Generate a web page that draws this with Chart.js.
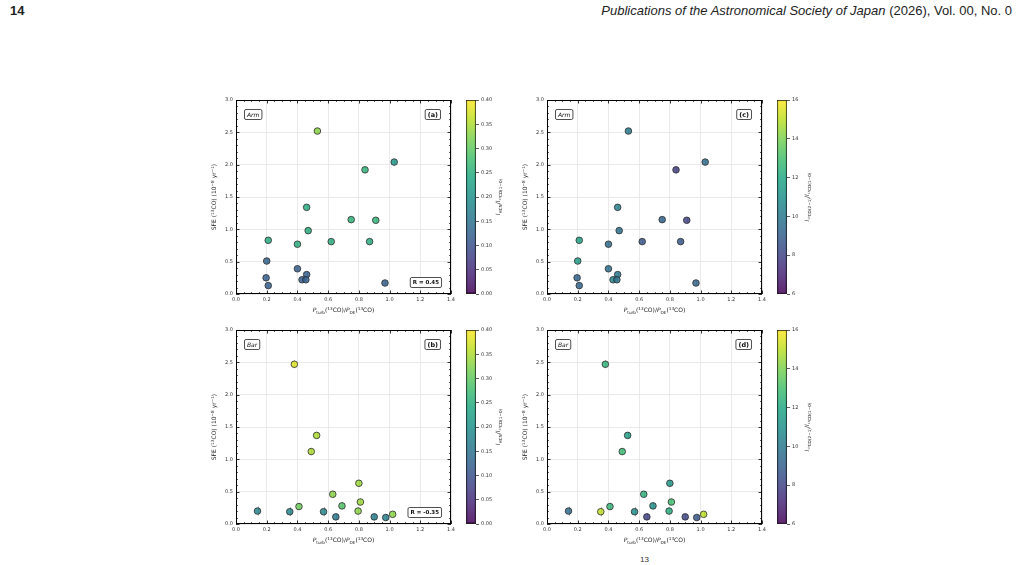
<!DOCTYPE html>
<html><head><meta charset="utf-8">
<script src="https://cdn.jsdelivr.net/npm/chart.js@4/dist/chart.umd.min.js"></script>
<style>
body{margin:0;background:#fff;width:1021px;height:565px;overflow:hidden;position:relative;}
canvas{position:absolute;}
.hdr{position:absolute;top:3px;font-family:"Liberation Sans Narrow","Liberation Sans",Arial,sans-serif;font-size:13px;color:#222;white-space:nowrap;}
#hl{left:10px;font-weight:bold;}
#hr{right:9px;}
#foot{position:absolute;left:640px;top:555px;font-family:"Liberation Sans",sans-serif;font-size:8px;color:#333;}
</style></head><body>
<div class="hdr" id="hl">14</div>
<div class="hdr" id="hr"><i>Publications of the Astronomical Society of Japan</i> (2026), Vol. 00, No. 0</div>
<div id="foot">13</div>
<canvas id="pa" width="268" height="236" style="left:190px;top:92px"></canvas>
<canvas id="ca" width="50" height="236" style="left:466px;top:92px"></canvas>
<canvas id="pc" width="268" height="236" style="left:501px;top:92px"></canvas>
<canvas id="cc" width="50" height="236" style="left:777px;top:92px"></canvas>
<canvas id="pb" width="268" height="236" style="left:190px;top:322px"></canvas>
<canvas id="cb" width="50" height="236" style="left:466px;top:322px"></canvas>
<canvas id="pd" width="268" height="236" style="left:501px;top:322px"></canvas>
<canvas id="cd" width="50" height="236" style="left:777px;top:322px"></canvas>
<script>
// ---- data ----
const xTickLabels = ['0.0','0.2','0.4','0.6','0.8','1.0','1.2','1.4'];
const yTickLabels = ['0.0','0.5','1.0','1.5','2.0','2.5','3.0'];
const hcnTickLabels = ['0.00','0.05','0.10','0.15','0.20','0.25','0.30','0.35','0.40'];
const coTickLabels = ['6','8','10','12','14','16'];

const armX   = [0.53,1.03,0.84,0.46,0.75,0.91,0.47,0.21,0.40,0.62,0.87,0.20,0.40,0.196,0.21,0.46,0.43,0.455,0.97];
const armY   = [2.52,2.04,1.92,1.34,1.15,1.14,0.98,0.83,0.77,0.81,0.81,0.51,0.39,0.25,0.13,0.30,0.22,0.22,0.17];
const armErr = [0.04,0.04,0.04,0.03,0.03,0.03,0.03,0.03,0.03,0.03,0.03,0.03,0.03,0.03,0.03,0.03,0.03,0.03,0.03];
const armHCN = [0.33,0.21,0.26,0.25,0.26,0.26,0.25,0.25,0.25,0.25,0.25,0.13,0.12,0.12,0.12,0.12,0.12,0.12,0.12];
const armCO  = [10.2,9.5,7.8,10.3,9.2,8.0,9.8,11.8,9.5,8.7,8.8,11.5,9.7,9.2,9.2,10.0,10.5,9.8,9.3];

const barX   = [0.38,0.525,0.49,0.80,0.63,0.81,0.41,0.69,0.795,1.02,0.14,0.35,0.57,0.65,0.90,0.975];
const barY   = [2.47,1.37,1.12,0.63,0.46,0.34,0.27,0.28,0.20,0.15,0.20,0.19,0.19,0.11,0.11,0.10];
const barErr = [0.06,0.05,0.05,0.05,0.05,0.05,0.05,0.05,0.05,0.04,0.07,0.07,0.07,0.05,0.05,0.05];
const barHCN = [0.38,0.35,0.35,0.34,0.33,0.34,0.31,0.29,0.33,0.33,0.18,0.18,0.18,0.16,0.17,0.17];
const barCO  = [12.5,11.6,12.8,11.2,12.4,13.0,12.6,11.0,12.2,15.0,9.5,15.0,10.8,8.0,8.2,8.8];

// ---- colormap ----
const VIR = ['#440154','#482475','#414487','#355f8d','#2a788e','#21918c','#22a884','#44bf70','#7ad151','#bddf26','#fde725'];
const ALPHA = 0.85;
function hex2rgb(h){return [parseInt(h.substr(1,2),16),parseInt(h.substr(3,2),16),parseInt(h.substr(5,2),16)];}
function viridis(t,al){
  t=Math.max(0,Math.min(1,t));
  const s=t*10, i=Math.min(9,Math.floor(s)), f=s-i;
  const a=hex2rgb(VIR[i]), b=hex2rgb(VIR[i+1]);
  return 'rgba('+a.map((v,k)=>Math.round(v+(b[k]-v)*f)).join(',')+','+al+')';
}

const FAM = '"DejaVu Sans", sans-serif';
function drawRich(ctx, segs, cx, cy, rot, size, color){
  ctx.save(); ctx.translate(cx,cy); ctx.rotate(rot);
  const fontOf=s=>(s.i?'italic ':'')+(s.b?'bold ':'')+((s.sub||s.sup)?size*0.7:size)+'px '+FAM;
  let w=0; for(const s of segs){ctx.font=fontOf(s); s._w=ctx.measureText(s.t).width; w+=s._w;}
  let x=-w/2; ctx.fillStyle=color; ctx.textBaseline='alphabetic'; ctx.textAlign='left';
  for(const s of segs){ctx.font=fontOf(s); const dy=s.sub?size*0.25:(s.sup?-size*0.4:0); ctx.fillText(s.t,x,size*0.35+dy); x+=s._w;}
  ctx.restore();
}
function roundRect(ctx,x,y,w,h,r){
  ctx.beginPath(); ctx.moveTo(x+r,y); ctx.lineTo(x+w-r,y); ctx.quadraticCurveTo(x+w,y,x+w,y+r);
  ctx.lineTo(x+w,y+h-r); ctx.quadraticCurveTo(x+w,y+h,x+w-r,y+h); ctx.lineTo(x+r,y+h);
  ctx.quadraticCurveTo(x,y+h,x,y+h-r); ctx.lineTo(x,y+r); ctx.quadraticCurveTo(x,y,x+r,y); ctx.closePath();
}
function textBox(ctx,text,font,x,y,anchor){
  ctx.save(); ctx.font=font; const w=ctx.measureText(text).width+5, h=10;
  let bx = anchor.indexOf('r')>=0 ? x-w : x;
  let by = anchor.indexOf('b')>=0 ? y-h : y;
  roundRect(ctx,bx+0.5,by+0.5,w,h,1.5); ctx.fillStyle='#fff'; ctx.fill();
  ctx.strokeStyle='#222'; ctx.lineWidth=0.8; ctx.stroke();
  ctx.fillStyle='#111'; ctx.textAlign='center'; ctx.textBaseline='middle';
  ctx.fillText(text,bx+0.5+w/2,by+0.5+h/2+0.5); ctx.restore();
}

const xTitle=[{t:'P',i:true},{t:'turb',sub:true},{t:'('},{t:'13',sup:true},{t:'CO)/'},{t:'P',i:true},{t:'DE',sub:true},{t:'('},{t:'13',sup:true},{t:'CO)'}];
const yTitle=[{t:'SFE ('},{t:'13',sup:true},{t:'CO) (10'},{t:'\u22128',sup:true},{t:' yr'},{t:'\u22121',sup:true},{t:')'}];
const hcnTitle=[{t:'I',i:true},{t:'HCN',sub:true},{t:'/'},{t:'I',i:true},{t:'\u00b9\u00b3CO(1\u22120)',sub:true}];
const coTitle=[{t:'I',i:true},{t:'\u00b9\u00b3CO(2\u22121)',sub:true},{t:'/'},{t:'I',i:true},{t:'\u00b9\u00b3CO(1\u22120)',sub:true}];

function makeScatter(id, xs, ys, errs, cs, cmin, cmax, region, tag, rtext){
  const pts = xs.map((x,i)=>({x:x,y:ys[i]}));
  const deco = {
    id:'deco',
    beforeDatasetsDraw(chart){
      const c=chart.ctx, sx=chart.scales.x, sy=chart.scales.y;
      c.save(); c.strokeStyle='#a0a0a0'; c.lineWidth=1;
      xs.forEach((x,i)=>{const px=Math.round(sx.getPixelForValue(x))+0.5;
        c.beginPath(); c.moveTo(px,sy.getPixelForValue(ys[i]-errs[i])); c.lineTo(px,sy.getPixelForValue(ys[i]+errs[i])); c.stroke();});
      c.restore();
    },
    afterDraw(chart){
      const c=chart.ctx, a=chart.chartArea, sx=chart.scales.x, sy=chart.scales.y;
      c.save();
      c.strokeStyle='#000'; c.lineWidth=1;
      c.strokeRect(a.left+0.5,a.top+0.5,a.right-a.left-1,a.bottom-a.top-1);
      c.lineWidth=0.8;
      for(let k=0;k<=28;k++){const v=k*0.05, px=Math.round(sx.getPixelForValue(v))+0.5, L=(k%4===0)?3.5:1.8;
        c.beginPath(); c.moveTo(px,a.bottom); c.lineTo(px,a.bottom-L); c.moveTo(px,a.top); c.lineTo(px,a.top+L); c.stroke();}
      for(let k=0;k<=30;k++){const v=k*0.1, py=Math.round(sy.getPixelForValue(v))+0.5, L=(k%5===0)?3.5:1.8;
        c.beginPath(); c.moveTo(a.left,py); c.lineTo(a.left+L,py); c.moveTo(a.right,py); c.lineTo(a.right-L,py); c.stroke();}
      c.restore();
      drawRich(c,xTitle,(a.left+a.right)/2,a.bottom+16,0,6,'#222');
      drawRich(c,yTitle,a.left-22,(a.top+a.bottom)/2,-Math.PI/2,6,'#222');
      textBox(c,region,'italic 6px '+FAM,a.left+8,a.top+9,'tl');
      textBox(c,tag,'bold 6.5px '+FAM,a.right-11,a.top+9,'tr');
      if(rtext) textBox(c,rtext,'bold 5.5px '+FAM,a.right-10,a.bottom-7,'br');
    }
  };
  new Chart(document.getElementById(id),{
    type:'scatter',
    data:{datasets:[{data:pts, backgroundColor:cs.map(v=>viridis((v-cmin)/(cmax-cmin),ALPHA)),
      borderColor:'#2a2a2a', borderWidth:0.8, pointRadius:3.3, pointHoverRadius:3.3}]},
    options:{responsive:false, animation:false, devicePixelRatio:1,
      layout:{padding:{top:8,right:6,left:0,bottom:0}},
      plugins:{legend:{display:false},tooltip:{enabled:false}},
      scales:{
        x:{type:'linear',min:0,max:1.4,
          ticks:{stepSize:0.2,color:'#333',font:{size:5,family:FAM},padding:3,maxRotation:0,callback:(v,i)=>xTickLabels[i]},
          grid:{color:'#e4e4e4',lineWidth:0.8,drawTicks:false},border:{display:false},
          afterFit:s=>{s.height=34;}},
        y:{type:'linear',min:0,max:3,
          ticks:{stepSize:0.5,color:'#333',font:{size:5,family:FAM},padding:3,callback:(v,i)=>yTickLabels[i]},
          grid:{color:'#e4e4e4',lineWidth:0.8,drawTicks:false},border:{display:false},
          afterFit:s=>{s.width=46;}}
      }},
    plugins:[deco]
  });
}

function makeColorbar(id, cmin, cmax, step, labels, title, off){
  const lab={id:'lab',afterDraw(chart){const a=chart.chartArea; drawRich(chart.ctx,title,a.right+off,(a.top+a.bottom)/2,-Math.PI/2,6,'#222');}};
  new Chart(document.getElementById(id),{
    type:'bar',
    data:{labels:[''],datasets:[{data:[[cmin,cmax]],
      backgroundColor:(ctx)=>{const ca=ctx.chart.chartArea; if(!ca) return '#888';
        const g=ctx.chart.ctx.createLinearGradient(0,ca.bottom,0,ca.top);
        VIR.forEach((c,i)=>g.addColorStop(i/10,viridis(i/10,ALPHA))); return g;},
      borderColor:'#222',borderWidth:1,borderSkipped:false,barPercentage:1,categoryPercentage:1}]},
    options:{responsive:false,animation:false,devicePixelRatio:1,
      layout:{padding:{top:8,bottom:34,left:0,right:0}},
      plugins:{legend:{display:false},tooltip:{enabled:false}},
      scales:{
        x:{display:false},
        y:{position:'right',min:cmin,max:cmax,
          ticks:{stepSize:step,color:'#333',font:{size:5,family:FAM},padding:2,callback:(v,i)=>labels[i]},
          grid:{drawOnChartArea:false,drawTicks:true,tickLength:3,color:'#333',lineWidth:0.8},
          border:{display:false},
          afterFit:s=>{s.width=40;}}
      }},
    plugins:[lab]
  });
}

makeScatter('pa',armX,armY,armErr,armHCN,0,0.4,'Arm','(a)','R = 0.45');
makeScatter('pb',barX,barY,barErr,barHCN,0,0.4,'Bar','(b)','R = -0.35');
makeScatter('pc',armX,armY,armErr,armCO,6,16,'Arm','(c)',null);
makeScatter('pd',barX,barY,barErr,barCO,6,16,'Bar','(d)',null);
makeColorbar('ca',0,0.4,0.05,hcnTickLabels,hcnTitle,22);
makeColorbar('cb',0,0.4,0.05,hcnTickLabels,hcnTitle,22);
makeColorbar('cc',6,16,2,coTickLabels,coTitle,20);
makeColorbar('cd',6,16,2,coTickLabels,coTitle,20);
</script>
</body></html>
